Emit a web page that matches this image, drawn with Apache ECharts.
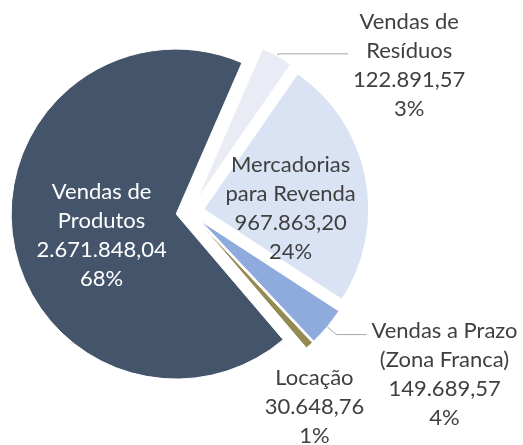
<!DOCTYPE html>
<html>
<head>
<meta charset="utf-8">
<script src="https://cdn.jsdelivr.net/npm/echarts@6/dist/echarts.min.js"></script>
<style>
  html, body { margin: 0; padding: 0; background: #fff; }
  #chart { width: 523px; height: 445px; }
</style>
</head>
<body>
<div id="chart"></div>
<script>
// slices, clockwise from the top-right
const categories = ['Vendas de Resíduos', 'Mercadorias para Revenda', 'Vendas a Prazo (Zona Franca)', 'Locação', 'Vendas de Produtos']
const labelNames = ['Vendas de\nResíduos', 'Mercadorias\npara Revenda', 'Vendas a Prazo\n(Zona Franca)', 'Locação', 'Vendas de\nProdutos']
const values = [122891.57, 967863.20, 149689.57, 30648.76, 2671848.04]
const percentLabels = [3, 24, 4, 1, 68]
const colors = ['#E9ECF5', '#DAE3F3', '#8FAADC', '#948A54', '#44546A']

// label placement per slice
const labelPos = ['outside', 'inside', 'outside', 'outside', 'inside']
const labelColor = ['#404040', '#404040', '#404040', '#404040', '#FFFFFF']
const lineLen = [[2, 70], [0, 0], [12, 30], [0, 0], [0, 0]]
const labelNudge = [{ dy: 12 }, { dx: 3, dy: 16 }, { dy: 40 }, { align: 'center', dy: 62 }, { dx: 10, dy: 9 }]

const fmt = (v) => {
  const [i, d] = v.toFixed(2).split('.')
  return i.replace(/\B(?=(\d{3})+(?!\d))/g, '.') + ',' + d
}

const chart = echarts.init(document.getElementById('chart'), null, { renderer: 'canvas' })

const data = categories.map((name, i) => ({
  name,
  value: values[i],
  selected: true,
  itemStyle: { color: colors[i] },
  label: {
    position: labelPos[i],
    color: labelColor[i],
    formatter: () => (labelNames[i] + '\n' + fmt(values[i]) + '\n' + percentLabels[i] + '%')
      .split('\n').map(s => '{c|' + s + '}').join('\n')
  },
  labelLine: {
    show: i === 0 || i === 2,
    length: lineLen[i][0],
    length2: lineLen[i][1]
  }
}))

chart.setOption({
  animation: false,
  series: [
    {
      type: 'pie',
      center: [190, 212],
      radius: 165,
      startAngle: 66.5,
      clockwise: true,
      selectedMode: 'multiple',
      selectedOffset: 14,
      avoidLabelOverlap: false,
      itemStyle: { borderColor: '#fff', borderWidth: 1 },
      select: { itemStyle: { borderColor: '#fff', borderWidth: 1 } },
      emphasis: { disabled: true },
      label: {
        fontFamily: 'Lato',
        fontSize: 22,
        lineHeight: 29,
        rich: {
          c: { align: 'center', fontFamily: 'Lato', fontSize: 22, lineHeight: 29 }
        }
      },
      labelLine: {
        lineStyle: { color: '#A6A6A6', width: 1 }
      },
      labelLayout: (p) => labelNudge[p.dataIndex],
      data
    }
  ]
})
</script>
</body>
</html>
